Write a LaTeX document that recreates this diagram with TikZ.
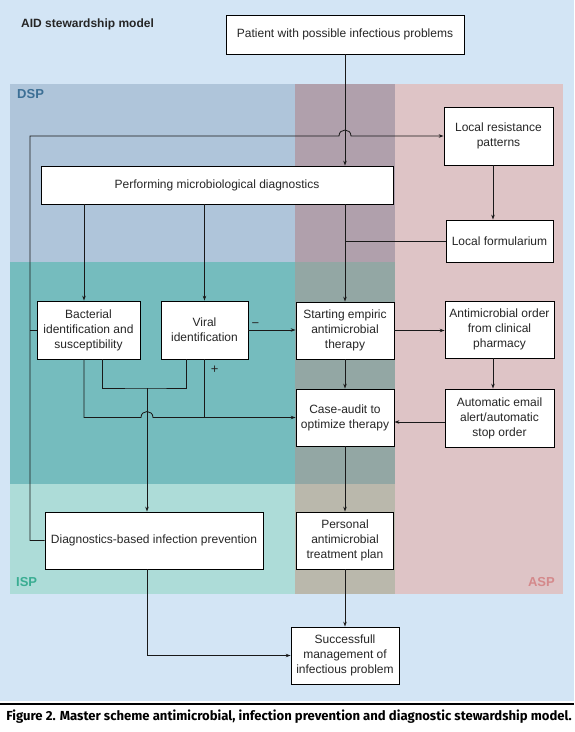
\documentclass[tikz,border=0pt]{standalone}
\usepackage{fontspec}
\setmainfont{Liberation Sans}
\newfontfamily\capfont{Fira Sans}
\usetikzlibrary{calc,arrows.meta}

\definecolor{bgblue}{HTML}{D3E5F5}
\definecolor{dspblue}{HTML}{AFC5DA}
\definecolor{dspmauve}{HTML}{B0A0AC}
\definecolor{asppink}{HTML}{DEC4C6}
\definecolor{midteal}{HTML}{75BCBE}
\definecolor{midgrey}{HTML}{93A7A4}
\definecolor{isplight}{HTML}{ADDCD8}
\definecolor{ispbeige}{HTML}{BAB8AC}
\definecolor{dsptext}{HTML}{3C6F95}
\definecolor{isptext}{HTML}{3AAD92}
\definecolor{asptext}{HTML}{D4898B}

\tikzset{
  box/.style={draw=black, fill=white, align=center, inner sep=1pt, text=black!85,
    line width=0.8pt, font=\fontsize{12}{15}\selectfont},
  link/.style={line width=0.8pt, draw=black!90},
  arr/.style={link, -{Stealth[length=5pt,width=3.5pt]}},
  sign/.style={font=\fontsize{13}{14}\selectfont, text=black!85},
  bandlabel/.style={font=\bfseries\fontsize{13}{15}\selectfont, inner sep=0pt}
}

\begin{document}
\begin{tikzpicture}[x=1pt, y=-1pt]
    \clip (0,0) rectangle (574,732);
    % background and stewardship bands
    \fill[white] (0,0) rectangle (574,732);
    \fill[bgblue] (0,0) rectangle (574,701);
    \fill[dspblue] (10,84) rectangle (295,262);
    \fill[dspmauve] (295,84) rectangle (395,262);
    \fill[asppink] (395,84) rectangle (563,594);
    \fill[midteal] (10,262) rectangle (295,484);
    \fill[midgrey] (295,262) rectangle (395,484);
    \fill[isplight] (10,484) rectangle (295,594);
    \fill[ispbeige] (295,484) rectangle (395,594);
    \node[bandlabel, text=dsptext, anchor=west] (dsp) at (17,94) {DSP};
    \node[bandlabel, text=isptext, anchor=west] (isp) at (16,582) {ISP};
    \node[bandlabel, text=asptext, anchor=east] (asp) at (555,582) {ASP};
    \node[font=\bfseries\fontsize{12}{14}\selectfont, text=black!85, anchor=west, inner sep=0pt] (title) at (21,24) {AID stewardship model};

    % boxes
    \node[box, minimum width=238, minimum height=39] (patient) at (345,34.5) {Patient with possible infectious problems};
    \node[box, minimum width=352, minimum height=38] (perform) at (217,185) {Performing microbiological diagnostics};
    \node[box, minimum width=109, minimum height=58] (locres) at (498.5,136) {Local resistance\\patterns};
    \node[box, minimum width=107, minimum height=42] (locform) at (499.5,241) {Local formularium};
    \node[box, minimum width=103, minimum height=58] (bact) at (88.5,330) {Bacterial\\identification and\\susceptibility};
    \node[box, minimum width=87, minimum height=58] (viral) at (204.5,330) {Viral\\identification};
    \node[box, minimum width=98, minimum height=57] (start) at (345,330.5) {Starting empiric\\antimicrobial\\therapy};
    \node[box, minimum width=109, minimum height=57] (order) at (499.5,329.5) {Antimicrobial order\\from clinical\\pharmacy};
    \node[box, minimum width=98, minimum height=57] (audit) at (345,417.5) {Case-audit to\\optimize therapy};
    \node[box, minimum width=109, minimum height=58] (email) at (499.5,418) {Automatic email\\alert/automatic\\stop order};
    \node[box, minimum width=218, minimum height=57] (prevent) at (154,540.5) {Diagnostics-based infection prevention};
    \node[box, minimum width=97, minimum height=57] (personal) at (345,540.5) {Personal\\antimicrobial\\treatment plan};
    \node[box, minimum width=108, minimum height=57] (success) at (345,655.5) {Successfull\\management of\\infectious problem};

    \coordinate (fbtop) at (30,136);
    \coordinate (merge) at (147,388);
    \coordinate (bactin) at ($(bact.north)+(-4.5,0)$);
    \coordinate (bactout) at ($(bact.south)+(13.5,0)$);
    \coordinate (viralout) at ($(viral.south)+(-18.5,0)$);

    % main column
    \draw[arr] (patient.south) -- (patient.south |- perform.north);
    \draw[arr] (start |- perform.south) -- (start.north);
    \draw[link] (locform.west) -- (locform.west -| start);
    \draw[arr] (start.south) -- (audit.north);
    \draw[arr] (audit.south) -- (personal.north);
    \draw[arr] (personal.south) -- (success.north);
    % antimicrobial column
    \draw[arr] ($(locres.south)+(-5.5,0)$) -- ($(locform.north)+(-6.5,0)$);
    \draw[arr] (start.east) -- (start.east -| order.west);
    \draw[arr] ($(order.south)+(-6.5,0)$) -- ($(email.north)+(-6.5,0)$);
    \draw[arr] ($(email.west)+(0,4)$) -- ($(email.west -| audit.east)+(0,4)$);
    % diagnostics
    \draw[arr] (bactin |- perform.south) -- (bactin);
    \draw[arr] (viral |- perform.south) -- (viral.north);
    \draw[arr] (viral.east) -- node[sign, pos=0.15, above, inner sep=2pt] {\textminus} (viral.east -| start.west);
    \draw[link] (viral.south) -- node[sign, pos=0.17, right, inner sep=6pt] {+} (viral.south |- audit.west);
    \draw[arr] (bactin |- bact.south) -- (bactin |- audit.west) -- ($(merge |- audit.west)+(-6,0)$)
      to[out=90, in=90, looseness=1.7] ($(merge |- audit.west)+(6,0)$) -- (audit.west);
    \draw[link] (bactout |- bact.south) |- (merge) -| (viralout |- viral.south);
    \draw[arr] (merge) -- (merge |- prevent.north);
    \draw[arr] (merge |- prevent.south) |- (success.west);
    % infection prevention feedback
    \draw[link] (bact.west) -- (bact.west -| fbtop);
    \draw[arr] (prevent.west) -| (fbtop) -- ($(fbtop -| start)+(-6,0)$)
      to[out=90, in=90, looseness=1.7] ($(fbtop -| start)+(6,0)$) -- (locres.west);

    % caption
    \draw[line width=1.5pt] (0,704) -- (574,704);
    \node[anchor=east, inner sep=0pt, font=\capfont\bfseries\fontsize{13.1}{15}\selectfont] (caption) at (572,717)
      {Figure 2. Master scheme antimicrobial, infection prevention and diagnostic stewardship model.};
\end{tikzpicture}
\end{document}
